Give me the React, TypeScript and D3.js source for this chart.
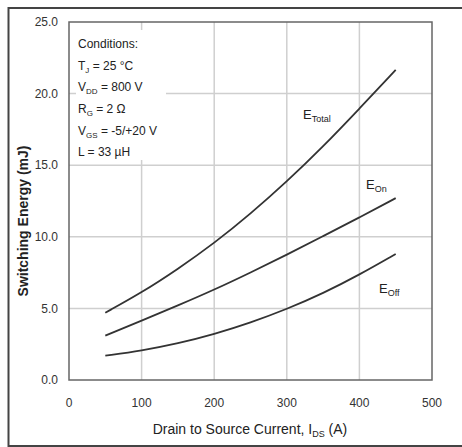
import React from "react";
import * as d3 from "d3";

const current = [50, 100, 150, 200, 250, 300, 350, 400, 450];
const eTotal = [4.7, 6.1, 7.75, 9.55, 11.6, 13.85, 16.3, 18.95, 21.65];
const eOn = [3.1, 4.15, 5.2, 6.3, 7.5, 8.75, 10.05, 11.35, 12.7];
const eOff = [1.7, 2.05, 2.55, 3.2, 4.0, 4.95, 6.05, 7.35, 8.8];
const xTicks = [0, 100, 200, 300, 400, 500];
const yTicks = [0, 5, 10, 15, 20, 25];
const conditions: [string, string, string][] = [
  ["Conditions:", "", ""],
  ["T", "J", " = 25 °C"],
  ["V", "DD", " = 800 V"],
  ["R", "G", " = 2 Ω"],
  ["V", "GS", " = -5/+20 V"],
  ["L = 33 µH", "", ""],
];

const W = 462, H = 447;
const L = 69, R = 432, T = 22, B = 380;
const FONT = "'Liberation Sans Narrow', 'Liberation Sans', Arial, sans-serif";
const INK = "#333";

export default function App() {
  const x = d3.scaleLinear().domain([0, 500]).range([L, R]);
  const y = d3.scaleLinear().domain([0, 25]).range([B, T]);
  const line = d3
    .line<number>()
    .x((_, i) => x(current[i]))
    .y((d) => y(d))
    .curve(d3.curveBasis);
  const series = [eTotal, eOn, eOff];
  return (
    <svg width={W} height={H} style={{ position: "absolute", left: 0, top: 0, background: "#fff" }} fontFamily={FONT}>
      <rect x={8.5} y={8} width={470} height={438} fill="#fff" stroke="#444" strokeWidth={2} />
      {xTicks.slice(1, -1).map((t) => (
        <line key={"gx" + t} x1={x(t)} x2={x(t)} y1={T} y2={B} stroke="#cfcfcf" strokeWidth={1.5} />
      ))}
      {yTicks.slice(1, -1).map((t) => (
        <line key={"gy" + t} x1={L} x2={R} y1={y(t)} y2={y(t)} stroke="#cfcfcf" strokeWidth={1.5} />
      ))}
      <rect x={76} y={30} width={90} height={130} fill="#fff" />
      <rect x={L} y={T} width={R - L} height={B - T} fill="none" stroke="#666" strokeWidth={1.5} />
      {series.map((s, i) => (
        <path key={i} d={line(s) || ""} fill="none" stroke={INK} strokeWidth={1.8} />
      ))}
      {yTicks.map((t) => (
        <text key={"yt" + t} x={58} y={y(t)} dy="0.35em" textAnchor="end" fontSize={12} fill={INK}>
          {t.toFixed(1)}
        </text>
      ))}
      {xTicks.map((t) => (
        <text key={"xt" + t} x={x(t)} y={403} dy="0.35em" textAnchor="middle" fontSize={12} fill={INK}>
          {t}
        </text>
      ))}
      <text x={250} y={429} dy="0.35em" textAnchor="middle" fontSize={14} fill="#222">
        Drain to Source Current, I<tspan fontSize={9} dy={3}>DS</tspan>
        <tspan dy={-3}> (A)</tspan>
      </text>
      <text
        transform={`translate(23,${(T + B) / 2 + 20}) rotate(-90)`}
        textAnchor="middle"
        dy="0.35em"
        fontSize={14}
        fontWeight="bold"
        fill="#222"
      >
        Switching Energy (mJ)
      </text>
      {conditions.map((c, i) => (
        <text key={"c" + i} x={78} y={44 + i * 21.6} dy="0.35em" fontSize={12} fill="#222">
          {c[0]}
          {c[1] && (
            <tspan fontSize={8} dy={3}>
              {c[1]}
            </tspan>
          )}
          {c[1] && <tspan dy={-3}>{c[2]}</tspan>}
        </text>
      ))}
      <text x={303} y={119} fontSize={13} fill="#222">
        E<tspan fontSize={9} dy={3}>Total</tspan>
      </text>
      <text x={366} y={189} fontSize={13} fill="#222">
        E<tspan fontSize={9} dy={3}>On</tspan>
      </text>
      <text x={379} y={293} fontSize={13} fill="#222">
        E<tspan fontSize={9} dy={3}>Off</tspan>
      </text>
    </svg>
  );
}
